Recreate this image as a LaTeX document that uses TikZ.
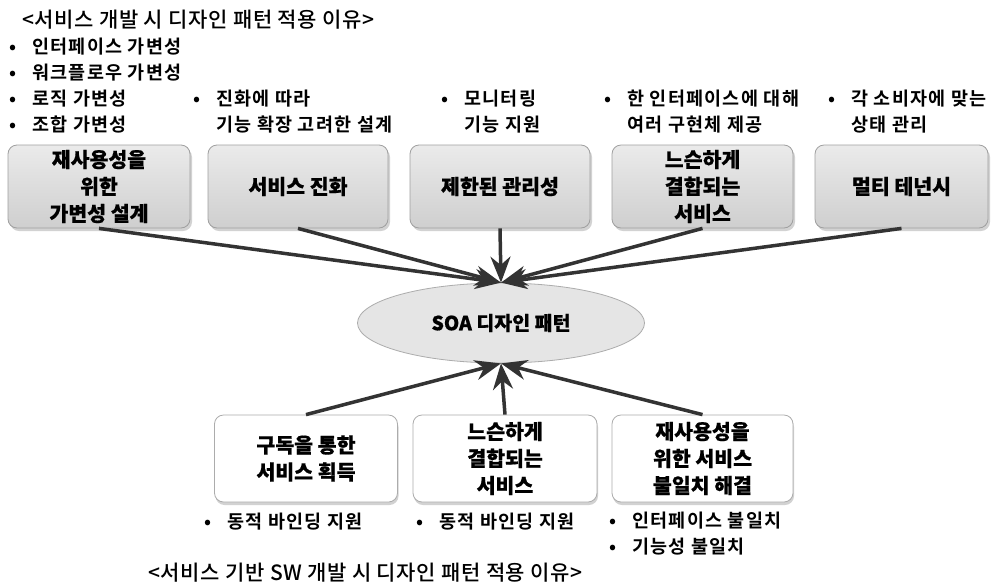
\documentclass[tikz,border=0pt]{standalone}
\usepackage{fontspec}
\setmainfont{Noto Sans CJK KR}[BoldFont={Noto Sans CJK KR Bold}]
\newfontfamily\medfont{Noto Sans CJK KR Bold}[LetterSpace=7]
\newfontfamily\ttlfont{Noto Sans CJK KR Medium}[LetterSpace=3]
\newfontfamily\heavyfont{Noto Sans CJK KR Black}[FakeBold=0.6]
\usetikzlibrary{arrows.meta,shapes.geometric,shadows}
\newcommand\bdot{\makebox[23pt][l]{•}}
\newcommand\bsp{\hspace*{23pt}}
\begin{document}
\begin{tikzpicture}[x=1pt,y=-1pt,
  topbox/.style={draw=gray!75, line width=0.8pt, rounded corners=9pt,
    top color=gray!16, bottom color=gray!38, minimum height=83pt,
    align=center, inner sep=2pt,
    font=\heavyfont\fontsize{20.5}{27}\selectfont,
    drop shadow={shadow xshift=2pt, shadow yshift=-3pt, opacity=0.35}},
  botbox/.style={draw=gray!65, line width=0.8pt, rounded corners=9pt,
    fill=white, minimum height=87pt, align=center, inner sep=2pt,
    font=\heavyfont\fontsize{20.5}{27}\selectfont,
    drop shadow={shadow xshift=1pt, shadow yshift=-3pt, opacity=0.35}},
  arr/.style={draw=black!80, line width=3.5pt,
    -{Stealth[length=26pt,width=20pt]}},
  bul/.style={anchor=west, align=left, inner sep=0pt,
    font=\medfont\fontsize{18.5}{26}\selectfont},
  ttl/.style={anchor=west, inner sep=0pt, font=\ttlfont\fontsize{21}{24}\selectfont}
]
\useasboundingbox (0,0) rectangle (991,582);
\fill[white] (0,0) rectangle (991,582);

% titles
\node[ttl] (tt1) at (22,20) {<서비스 개발 시 디자인 패턴 적용 이유>};
\node[ttl] (tt2) at (148,573) {<서비스 기반 SW 개발 시 디자인 패턴 적용 이유>};

% top bullet notes
\node[bul] (l1) at (9,86) {\bdot 인터페이스 가변성\\ \bdot 워크플로우 가변성\\ \bdot 로직 가변성\\ \bdot 조합 가변성};
\node[bul] (l2) at (193,112) {\bdot 진화에 따라\\ \bsp 기능 확장 고려한 설계};
\node[bul] (l3) at (441,112) {\bdot 모니터링\\ \bsp 기능 지원};
\node[bul] (l4) at (604,112) {\bdot 한 인터페이스에 대해\\ \bsp 여러 구현체 제공};
\node[bul] (l5) at (828,112) {\bdot 각 소비자에 맞는\\ \bsp 상태 관리};

% top boxes
\node[topbox, minimum width=182pt] (t1) at (99,186.5) {재사용성을\\위한\\가변성 설계};
\node[topbox, minimum width=180pt] (t2) at (298,186.5) {서비스 진화};
\node[topbox, minimum width=180pt] (t3) at (500,186.5) {제한된 관리성};
\node[topbox, minimum width=181pt] (t4) at (702.5,186.5) {느슨하게\\결합되는\\서비스};
\node[topbox, minimum width=173pt] (t5) at (901.5,186.5) {멀티 테넌시};

% central ellipse
\node[ellipse, draw=gray!65, line width=0.8pt, fill=gray!20,
  minimum width=287pt, minimum height=80pt, inner sep=0pt,
  font=\heavyfont\fontsize{19.5}{22}\selectfont] (e) at (501,323) {SOA 디자인 패턴};

% bottom boxes
\node[botbox, minimum width=183pt] (b1) at (306,458.5) {구독을 통한\\서비스 획득};
\node[botbox, minimum width=184pt] (b2) at (505,458.5) {느슨하게\\결합되는\\서비스};
\node[botbox, minimum width=181pt] (b3) at (702.5,458.5) {재사용성을\\위한 서비스\\불일치 해결};

% bottom bullet notes
\node[bul] (m1) at (204,522) {\bdot 동적 바인딩 지원};
\node[bul] (m2) at (416,522) {\bdot 동적 바인딩 지원};
\node[bul] (m3) at (609,534) {\bdot 인터페이스 불일치\\ \bdot 기능성 불일치};

% arrows
\draw[arr] (t1.south) -- (e.north);
\draw[arr] (t2.south) -- (e.north);
\draw[arr] (t3.south) -- (e.north);
\draw[arr] (t4.south) -- (e.north);
\draw[arr] (t5.south) -- (e.north);
\draw[arr] (b1.north) -- (e.south);
\draw[arr] (b2.north) -- (e.south);
\draw[arr] (b3.north) -- (e.south);
\end{tikzpicture}
\end{document}
